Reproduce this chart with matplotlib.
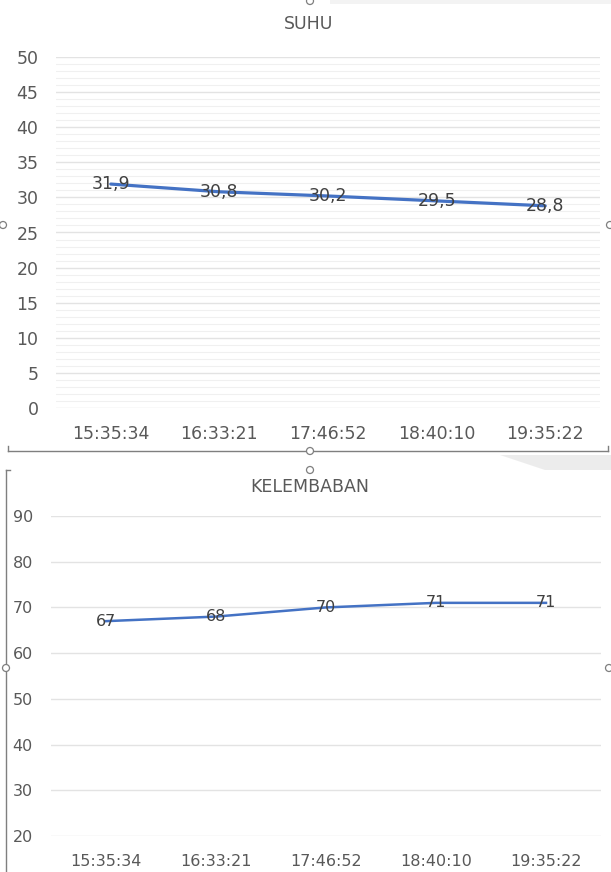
import matplotlib
matplotlib.use("Agg")
import matplotlib.pyplot as plt
from matplotlib.patches import Polygon, Ellipse
from matplotlib.lines import Line2D

plt.rcParams['font.family'] = ['DejaVu Sans']

times = ["15:35:34", "16:33:21", "17:46:52", "18:40:10", "19:35:22"]
suhu = [31.9, 30.8, 30.2, 29.5, 28.8]
kelembaban = [67, 68, 70, 71, 71]
suhu_ticks = [0, 5, 10, 15, 20, 25, 30, 35, 40, 45, 50]
kel_ticks = [20, 30, 40, 50, 60, 70, 80, 90]

W, H = 611, 872
fig = plt.figure(figsize=(W / 100, H / 100), dpi=100)
fig.patch.set_facecolor("white")

def px_axes(x0, y_top, x1, y_bot):
    return fig.add_axes([x0 / W, 1 - y_bot / H, (x1 - x0) / W, (y_bot - y_top) / H])

line_color = "#4472C4"
tick_color = "#595959"
label_color = "#404040"

def style(ax, fs, ypad, xpad):
    for s in ax.spines.values():
        s.set_visible(False)
    ax.tick_params(axis="both", length=0, colors=tick_color, labelsize=fs)
    ax.tick_params(axis="y", pad=ypad)
    ax.tick_params(axis="x", pad=xpad)
    ax.set_xlim(-0.5, len(times) - 0.5)
    ax.set_xticks(range(len(times)))
    ax.set_xticklabels(times)

# --- top chart: SUHU ---
FS1 = 12.5
ax1 = px_axes(56.5, 57, 599.5, 408)
style(ax1, FS1, 13, 12)
ax1.set_ylim(0, 50)
ax1.set_yticks(suhu_ticks)
ax1.set_yticks(range(0, 51), minor=True)
ax1.grid(True, which="major", axis="y", color="#e3e3e3", lw=1.0)
ax1.grid(True, which="minor", axis="y", color="#f0f0f0", lw=0.8)
ax1.tick_params(axis="y", which="minor", length=0)
ax1.set_axisbelow(True)
ax1.plot(range(len(times)), suhu, color=line_color, lw=2.3, solid_capstyle="round", zorder=3)
for i, v in enumerate(suhu):
    ax1.text(i, v, f"{v:.1f}".replace(".", ","), ha="center", va="center",
             fontsize=FS1, color=label_color, zorder=4)
fig.text(309 / W, 1 - 24 / H, "SUHU", ha="center", va="center", fontsize=12.5, color=tick_color)

# --- bottom chart: KELEMBABAN ---
FS2 = 11.5
ax2 = px_axes(51, 516, 601, 836)
style(ax2, FS2, 13, 13)
ax2.set_ylim(20, 90)
ax2.set_yticks(kel_ticks)
ax2.grid(True, which="major", axis="y", color="#e3e3e3", lw=1.0)
ax2.set_axisbelow(True)
ax2.plot(range(len(times)), kelembaban, color=line_color, lw=1.8, zorder=3)
for i, v in enumerate(kelembaban):
    ax2.text(i, v, f"{v}", ha="center", va="center", fontsize=FS2, color=label_color, zorder=4)
fig.text(310 / W, 1 - 487 / H, "KELEMBABAN", ha="center", va="center", fontsize=12.5, color=tick_color)

# --- decorations: frames / handles from the screenshot ---
def fx(x):
    return x / W

def fy(y):
    return 1 - y / H

frame_c = "#7f7f7f"
fig.patches.append(Polygon([(fx(500), fy(455)), (fx(611), fy(455)), (fx(611), fy(470)),
                            (fx(545), fy(470))], closed=True, transform=fig.transFigure,
                           facecolor="#ececec", edgecolor="none", zorder=0))
fig.patches.append(Polygon([(fx(330), fy(0)), (fx(611), fy(0)), (fx(611), fy(4)),
                            (fx(330), fy(4))], closed=True, transform=fig.transFigure,
                           facecolor="#f3f3f3", edgecolor="none", zorder=0))
fig.lines.append(Line2D([fx(8), fx(608)], [fy(451), fy(451)], transform=fig.transFigure,
                        color=frame_c, lw=1.0))
fig.lines.append(Line2D([fx(8), fx(8)], [fy(446), fy(451)], transform=fig.transFigure,
                        color=frame_c, lw=1.0))
fig.lines.append(Line2D([fx(608), fx(608)], [fy(446), fy(451)], transform=fig.transFigure,
                        color=frame_c, lw=1.0))
fig.lines.append(Line2D([fx(6), fx(6)], [fy(470), fy(872)], transform=fig.transFigure,
                        color=frame_c, lw=1.0))
fig.lines.append(Line2D([fx(6), fx(10)], [fy(470), fy(470)], transform=fig.transFigure,
                        color=frame_c, lw=1.0))
r = 3.5
for (x, y) in [(310, 451), (310, 1), (310, 470), (6, 668), (609, 668), (3, 225), (610, 225)]:
    fig.patches.append(Ellipse((fx(x), fy(y)), width=2 * r / W, height=2 * r / H,
                               transform=fig.transFigure, facecolor="white",
                               edgecolor=frame_c, lw=0.9, zorder=5))

fig.savefig("out.png", dpi=100, facecolor="white")
